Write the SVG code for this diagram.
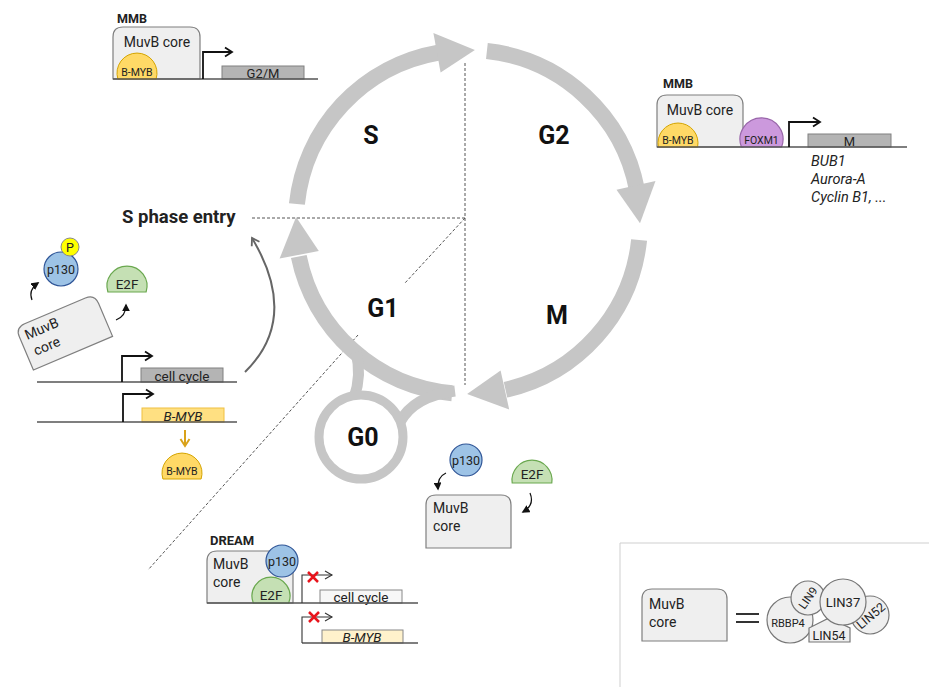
<svg xmlns="http://www.w3.org/2000/svg" width="929" height="687" viewBox="0 0 929 687">
<style>
text{font-family:Roboto,"Liberation Sans",sans-serif;fill:#222}
.box{fill:#efefef;stroke:#7f7f7f;stroke-width:1.2}
.gbox{fill:#b4b4b4;stroke:#808080;stroke-width:1}
.line{stroke:#555;stroke-width:1.3;fill:none}
.prom{stroke:#111;stroke-width:1.8;fill:none}
.dash{stroke:#555;stroke-width:1;stroke-dasharray:3 2;fill:none}
.cyc{stroke:#c6c6c6;stroke-width:16;fill:none}
.head{fill:#c6c6c6}
.myb{fill:#ffd966;stroke:#d4a400;stroke-width:1}
.p130{fill:#9dc3e6;stroke:#2f5597;stroke-width:1.2}
.e2f{fill:#c5e0b4;stroke:#6aa84f;stroke-width:1.2}
.foxm{fill:#cc99dd;stroke:#9966aa;stroke-width:1.2}
.lg{fill:#efefef;stroke:#777;stroke-width:1.2}
.phase{font-weight:bold;font-size:25px;text-anchor:middle;fill:#111}
.mid{text-anchor:middle}
.redx{stroke:#e8141c;stroke-width:2.5}
</style>
<defs>
<marker id="chev" viewBox="0 0 12 12" refX="10" refY="6" markerWidth="12" markerHeight="12" orient="auto" markerUnits="userSpaceOnUse"><path d="M3,1.5 L10,6 L3,10.5" fill="none" stroke="#111" stroke-width="1.8"/></marker>
<marker id="chevthin" viewBox="0 0 12 12" refX="10" refY="6" markerWidth="12" markerHeight="12" orient="auto" markerUnits="userSpaceOnUse"><path d="M3,2 L10,6 L3,10" fill="none" stroke="#333" stroke-width="1.1"/></marker>
<marker id="chevgray" viewBox="0 0 12 12" refX="10" refY="6" markerWidth="12" markerHeight="12" orient="auto" markerUnits="userSpaceOnUse"><path d="M3,1.5 L10,6 L3,10.5" fill="none" stroke="#666" stroke-width="1.8"/></marker>
<marker id="chevorange" viewBox="0 0 12 12" refX="10" refY="6" markerWidth="12" markerHeight="12" orient="auto" markerUnits="userSpaceOnUse"><path d="M3,1.5 L10,6 L3,10.5" fill="none" stroke="#d9a21a" stroke-width="2"/></marker>
<marker id="tri" viewBox="0 0 10 10" refX="8" refY="5" markerWidth="8" markerHeight="8" orient="auto" markerUnits="userSpaceOnUse"><path d="M0,0 L10,5 L0,10 z" fill="#111"/></marker>
</defs>

<!-- guide dashed lines -->
<g id="guides">
<line class="dash" x1="465" y1="63" x2="465" y2="385"/>
<line class="dash" x1="252" y1="218" x2="465" y2="218"/>
<line class="dash" x1="465" y1="218" x2="405" y2="283"/>
<line class="dash" x1="358" y1="335" x2="148" y2="570"/>
</g>

<!-- cell cycle -->
<g id="connectors">
<path class="cyc" d="M296.9,204 A172,172 0 0 1 438.5,52.6"/>
<polygon class="head" points="433.4,33.1 474.9,50.1 440.6,72.5"/>
<path class="cyc" d="M486.9,51 A172,172 0 0 1 637,190"/>
<polygon class="head" points="655.5,181.1 640,223.2 616.5,189.7"/>
<path class="cyc" d="M639.1,240 A172,172 0 0 1 505.5,389.8"/>
<polygon class="head" points="509.2,409.5 467.1,394 500.6,370.5"/>
<path class="cyc" d="M452.1,393.3 A172,172 0 0 1 298.8,256.5"/>
<polygon class="head" points="279.6,258.6 296.1,216.9 318.8,251"/>
<path d="M356,352 Q362,375 354,398" stroke="#c6c6c6" stroke-width="11" fill="none"/>
<path d="M400,422 Q414,396 455,391" stroke="#c6c6c6" stroke-width="11" fill="none"/>
<path d="M245,372 Q300,318 252,238" stroke="#666" stroke-width="2" fill="none" marker-end="url(#chevgray)"/>
</g>

<g id="G0">
<circle cx="361" cy="437" r="42" fill="#fff" stroke="#c6c6c6" stroke-width="9"/>
<text class="phase" x="363" y="446">G0</text>
</g>
<g id="phase-labels">
<text class="phase" x="371" y="144">S</text>
<text class="phase" x="554" y="144">G2</text>
<text class="phase" x="383" y="317">G1</text>
<text class="phase" x="557" y="324">M</text>
</g>

<!-- top-left MMB -->
<g id="mmb-top">
<text x="117" y="23" font-size="12.5" font-weight="bold">MMB</text>
<path class="box" d="M113,79 L113,37 Q113,27 123,27 L190,27 Q200,27 200,37 L200,79 Z"/>
<text class="mid" x="157" y="47" font-size="14">MuvB core</text>
<path class="myb" d="M117.9,79 A20,20 0 1 1 156.1,79 Z"/>
<text class="mid" x="137" y="76" font-size="10.5">B-MYB</text>
<rect class="gbox" x="222" y="66" width="82" height="13"/>
<text class="mid" x="263" y="78" font-size="13">G2/M</text>
<line class="line" x1="113" y1="79" x2="318" y2="79"/>
<path class="prom" d="M203,79 L203,52 L232,52" marker-end="url(#chev)"/>
</g>

<!-- right MMB -->
<g id="mmb-right">
<text x="663" y="88" font-size="12.5" font-weight="bold">MMB</text>
<path class="box" d="M657,147 L657,105 Q657,95 667,95 L733,95 Q743,95 743,105 L743,147 Z"/>
<text class="mid" x="700" y="115" font-size="14">MuvB core</text>
<path class="myb" d="M658.4,147 A20,20 0 1 1 697.6,147 Z"/>
<text class="mid" x="678" y="144" font-size="10.5">B-MYB</text>
<path class="foxm" d="M741.4,147 A21.5,21.5 0 1 1 781.6,147 Z"/>
<text class="mid" x="761.5" y="144" font-size="10.5">FOXM1</text>
<rect class="gbox" x="808" y="134" width="83" height="13"/>
<text class="mid" x="849.5" y="146" font-size="13">M</text>
<line class="line" x1="657" y1="147" x2="907" y2="147"/>
<path class="prom" d="M789,147 L789,122 L820,122" marker-end="url(#chev)"/>
<text x="811" y="166" font-size="14.5" font-style="italic">BUB1</text>
<text x="811" y="184" font-size="14.5" font-style="italic">Aurora-A</text>
<text x="811" y="202" font-size="14.5" font-style="italic">Cyclin B1, ...</text>
</g>

<!-- S phase entry -->
<g id="s-entry">
<text x="122" y="223" font-size="18.5" font-weight="bold">S phase entry</text>
</g>

<!-- left release -->
<g id="left-release">
<g transform="translate(64,332) rotate(-23)">
<path class="box" d="M-43,23 L-43,-13 Q-43,-23 -33,-23 L33,-23 Q43,-23 43,-13 L43,23 Z"/>
<text x="-37" y="-7" font-size="14">MuvB</text>
<text x="-35" y="11" font-size="14">core</text>
</g>
<circle class="p130" cx="61" cy="269" r="17"/>
<text class="mid" x="61" y="273.5" font-size="12.5">p130</text>
<circle cx="70" cy="247" r="9" fill="#ffff00" stroke="#888" stroke-width="1"/>
<text class="mid" x="70" y="251.5" font-size="12.5">P</text>
<path class="e2f" d="M107.9,292 A20,20 0 1 1 146.1,292 Z"/>
<text class="mid" x="127" y="289" font-size="13.5">E2F</text>
<path d="M32,300 Q28,290 38,283" stroke="#111" stroke-width="1.2" fill="none" marker-end="url(#tri)"/>
<path d="M116,320 Q126,316 126,305" stroke="#111" stroke-width="1.2" fill="none" marker-end="url(#tri)"/>
</g>

<g id="gene-cellcycle">
<rect class="gbox" x="141" y="368" width="82" height="14"/>
<text class="mid" x="182" y="380.5" font-size="13.5">cell cycle</text>
<line class="line" x1="37" y1="382" x2="237" y2="382"/>
<path class="prom" d="M122,382 L122,356 L152,356" marker-end="url(#chev)"/>
</g>
<g id="gene-bmyb">
<rect x="142" y="408" width="82" height="14" fill="#ffe082" stroke="#f0c040" stroke-width="1"/>
<text class="mid" x="183" y="420.5" font-size="13.5" font-style="italic">B-MYB</text>
<line class="line" x1="37" y1="422" x2="237" y2="422"/>
<path class="prom" d="M123,422 L123,394 L153,394" marker-end="url(#chev)"/>
<line x1="185" y1="430" x2="185" y2="446" stroke="#d9a21a" stroke-width="2" marker-end="url(#chevorange)"/>
</g>
<g id="bmyb-protein">
<path class="myb" d="M162.9,479 A20,20 0 1 1 201.1,479 Z"/>
<text class="mid" x="182" y="475" font-size="10.5">B-MYB</text>
</g>

<!-- bottom center assembly -->
<g id="assembly">
<path class="box" d="M426,548 L426,505 Q426,495 436,495 L501,495 Q511,495 511,505 L511,548 Z"/>
<text x="433" y="513" font-size="14">MuvB</text>
<text x="433" y="531" font-size="14">core</text>
<circle class="p130" cx="466" cy="460" r="16"/>
<text class="mid" x="466" y="464.5" font-size="12.5">p130</text>
<path class="e2f" d="M512.2,483 A20,20 0 1 1 551.8,483 Z"/>
<text class="mid" x="532" y="479" font-size="13.5">E2F</text>
<path d="M446,473 Q437,477 438,489" stroke="#111" stroke-width="1.2" fill="none" marker-end="url(#tri)"/>
<path d="M530,493 Q535,505 523,512" stroke="#111" stroke-width="1.2" fill="none" marker-end="url(#tri)"/>
</g>

<!-- DREAM -->
<g id="dream">
<text x="210" y="545" font-size="13" font-weight="bold">DREAM</text>
<path class="box" d="M207,603 L207,561 Q207,551 217,551 L283,551 Q293,551 293,561 L293,603 Z"/>
<text x="213" y="569" font-size="14">MuvB</text>
<text x="213" y="587" font-size="14">core</text>
<circle class="p130" cx="282" cy="561" r="16"/>
<text class="mid" x="282" y="565.5" font-size="12.5">p130</text>
<path class="e2f" d="M253.3,603 A19,19 0 1 1 288.7,603 Z"/>
<text class="mid" x="271" y="600" font-size="13.5">E2F</text>
</g>
<g id="dream-gene1">
<rect x="320" y="590" width="82" height="13" fill="#f7f7f7" stroke="#888" stroke-width="1"/>
<text class="mid" x="361" y="602" font-size="13.5">cell cycle</text>
<line class="line" x1="207" y1="603" x2="418" y2="603"/>
<path d="M302,603 L302,575 L332,575" stroke="#333" stroke-width="1.1" fill="none" marker-end="url(#chevthin)"/>
<path class="redx" d="M308,572 L318,582 M318,572 L308,582"/>
</g>
<g id="dream-gene2">
<rect x="322" y="630" width="81" height="13" fill="#fff2cc" stroke="#888" stroke-width="1"/>
<text class="mid" x="362" y="642" font-size="13.5" font-style="italic">B-MYB</text>
<line class="line" x1="302" y1="643" x2="418" y2="643"/>
<path d="M302,643 L302,617 L332,617" stroke="#333" stroke-width="1.1" fill="none" marker-end="url(#chevthin)"/>
<path class="redx" d="M309,612 L319,622 M319,612 L309,622"/>
</g>

<!-- legend -->
<g id="legend">
<path d="M929,543 L620,543 L620,687" stroke="#cfcfcf" stroke-width="1" fill="none"/>
<path class="box" d="M642,641 L642,599 Q642,589 652,589 L717,589 Q727,589 727,599 L727,641 Z"/>
<text x="649" y="609" font-size="14">MuvB</text>
<text x="649" y="627" font-size="14">core</text>
<line x1="736" y1="614" x2="759" y2="614" stroke="#333" stroke-width="2"/>
<line x1="736" y1="622" x2="759" y2="622" stroke="#333" stroke-width="2"/>
<circle class="lg" cx="790" cy="620" r="23"/>
<circle class="lg" cx="870" cy="615" r="19"/>
<path class="lg" d="M809,642 L809,628 L829,618 L850,628 L850,642 Z"/>
<circle class="lg" cx="808" cy="598" r="17"/>
<circle class="lg" cx="843" cy="602" r="23"/>
<text class="mid" x="788" y="627" font-size="11">RBBP4</text>
<text class="mid" x="808" y="602" font-size="11.5" transform="rotate(-55 808 598)">LIN9</text>
<text class="mid" x="843" y="606.5" font-size="13">LIN37</text>
<text class="mid" x="871" y="620" font-size="12.5" transform="rotate(-40 871 616)">LIN52</text>
<text class="mid" x="829" y="639.5" font-size="12.5">LIN54</text>
</g>
</svg>
